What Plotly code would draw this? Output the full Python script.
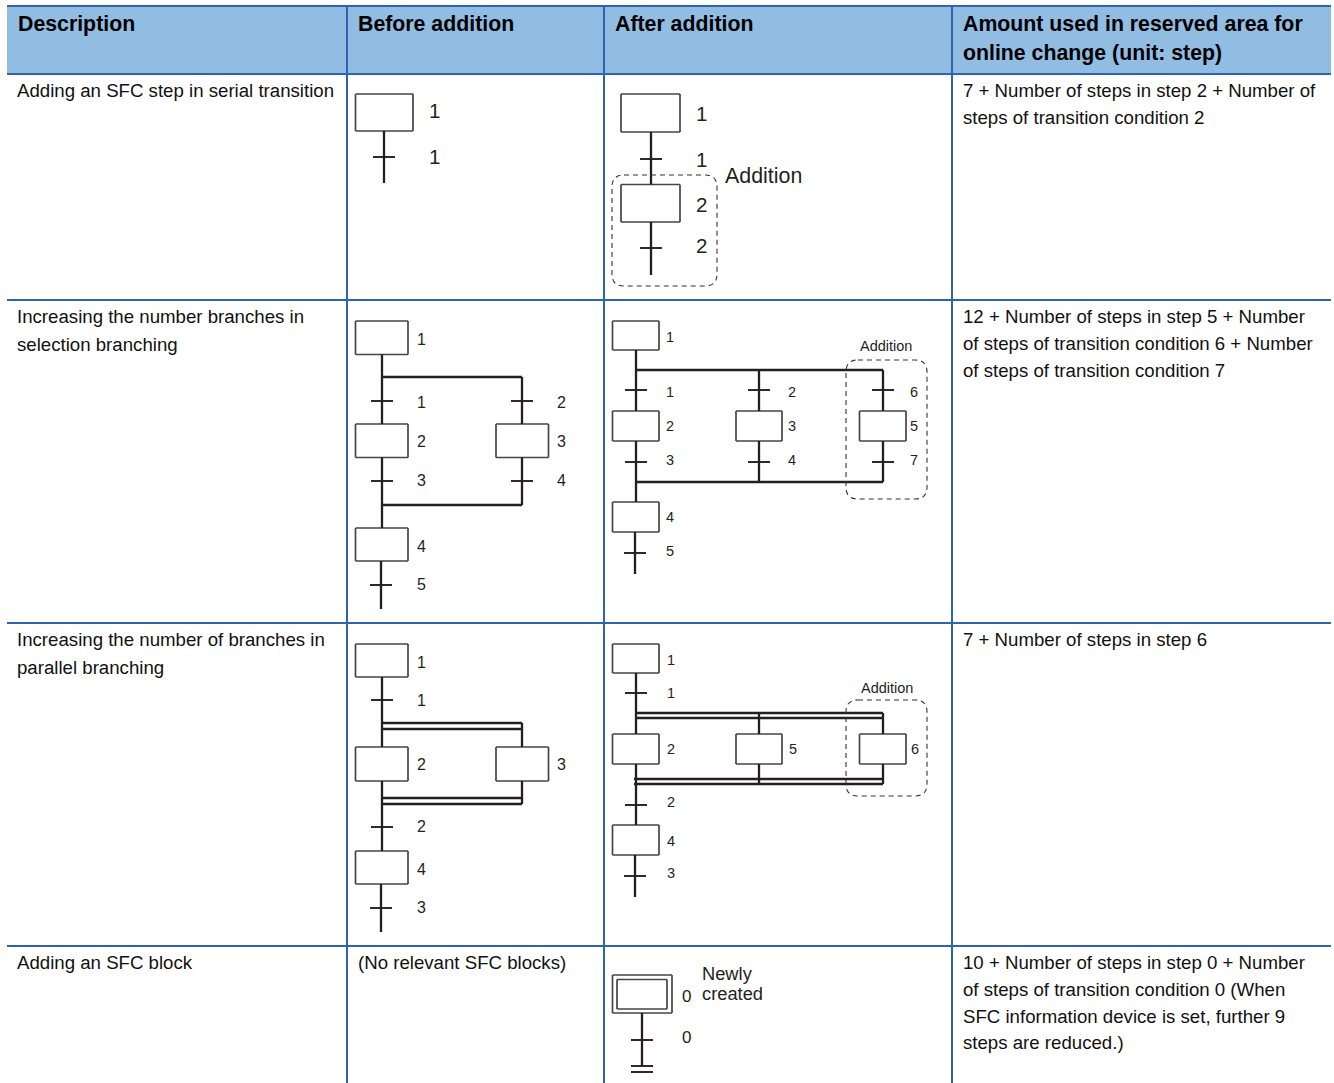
import plotly.graph_objects as go

W, H = 1334, 1083
# Table structure
grid_columns = [347, 604, 952]
grid_rows = [6, 74, 300, 623, 946]
table_left, table_right = 7, 1331
header_box = (7, 6, 1331, 74)

header_cells = [
    (18, 24, "Description"), (358, 24, "Before addition"), (615, 24, "After addition"),
    (963, 24, "Amount used in reserved area for"), (963, 53, "online change (unit: step)"),
]
body_cells = [
    (17, 90, "Adding an SFC step in serial transition"),
    (963, 90, "7 + Number of steps in step 2 + Number of"),
    (963, 117, "steps of transition condition 2"),
    (17, 316, "Increasing the number branches in"),
    (17, 344, "selection branching"),
    (963, 316, "12 + Number of steps in step 5 + Number"),
    (963, 343, "of steps of transition condition 6 + Number"),
    (963, 370, "of steps of transition condition 7"),
    (17, 639, "Increasing the number of branches in"),
    (17, 667, "parallel branching"),
    (963, 639, "7 + Number of steps in step 6"),
    (17, 962, "Adding an SFC block"),
    (358, 962, "(No relevant SFC blocks)"),
    (963, 962, "10 + Number of steps in step 0 + Number"),
    (963, 989, "of steps of transition condition 0 (When"),
    (963, 1016, "SFC information device is set, further 9"),
    (963, 1042, "steps are reduced.)"),
]

# SFC diagrams: step boxes (x0, y0, x1, y1)
step_boxes = [
    (355.5, 94, 413, 131),
    (621, 94, 680, 132), (621, 184.5, 680, 222),
    (355.5, 321, 408, 354.5), (355.5, 424, 408, 457.5), (496, 424, 548.5, 457.5), (355.5, 528, 408, 561),
    (612.5, 321, 659, 350), (612.5, 411, 659, 441), (736, 411, 782, 441), (859.5, 411, 906, 441), (612.5, 502, 659, 532),
    (355.5, 644, 408, 677), (355.5, 747, 408, 781), (496, 747, 548.5, 781), (355.5, 851, 408, 884),
    (612.5, 644, 659, 673), (612.5, 734, 659, 764), (736, 734, 782, 764), (859.5, 734, 906, 764), (612.5, 825, 659, 855),
    (612.5, 975, 672, 1013), (617, 979.5, 667, 1009),
]
# Vertical connectors (x, y0, y1)
stems = [
    (384, 131, 183),
    (651, 132, 184.5), (651, 222, 275),
    (382, 354.5, 424), (522, 377, 424), (382, 457.5, 528), (522, 457.5, 505), (381, 561, 609),
    (636, 350, 411), (759, 370, 411), (883, 370, 411), (636, 441, 502), (759, 441, 482), (883, 441, 482), (635, 532, 574),
    (382, 677, 747), (522, 723, 747), (382, 781, 851), (522, 781, 804), (381, 884, 932),
    (636, 673, 734), (759, 713, 734), (883, 713, 734), (636, 764, 825), (759, 764, 784), (883, 764, 784), (635, 855, 897),
    (642, 1013, 1066),
]
# Horizontal bus lines (x0, x1, y)
buses = [
    (382, 522, 377), (382, 522, 505),
    (636, 883, 370), (636, 883, 482),
    (382, 522, 723), (382, 522, 729), (382, 522, 798), (382, 522, 804),
    (636, 883, 713), (636, 883, 718), (634, 883, 779), (634, 883, 784),
]
# Transition bars (x centre, y)
transitions = [
    (384, 157), (651, 159), (651, 248),
    (382, 401), (522, 401), (382, 481), (522, 481), (381, 585),
    (636, 390), (759, 390), (883, 390), (636, 462), (759, 462), (883, 462), (635, 553),
    (382, 700), (382, 827), (381, 908),
    (636, 693), (636, 805), (635, 876),
    (642, 1040), (642, 1066), (642, 1072),
]
# Dashed "Addition" frames (x0, y0, x1, y1)
addition_frames = [(612, 175, 717, 286), (846, 360, 927, 499), (846, 700, 927, 796)]

large_labels = [
    (434, 110, "1"), (434, 156, "1"),
    (701, 113, "1"), (701, 159, "1"), (701, 204, "2"), (701, 245, "2"),
]
addition_large = [(763.5, 175.5, "Addition")]
medium_labels = [
    (421, 339, "1"), (421, 402, "1"), (561, 402, "2"), (421, 441, "2"), (561, 441, "3"),
    (421, 480, "3"), (561, 480, "4"), (421, 546, "4"), (421, 584, "5"),
    (421, 662, "1"), (421, 700, "1"), (421, 764, "2"), (561, 764, "3"),
    (421, 826, "2"), (421, 869, "4"), (421, 907, "3"),
]
small_labels = [
    (670, 337, "1"), (670, 392, "1"), (792, 392, "2"), (914, 392, "6"),
    (670, 426, "2"), (792, 426, "3"), (914, 426, "5"),
    (670, 460, "3"), (792, 460, "4"), (914, 460, "7"),
    (670, 517, "4"), (670, 550.5, "5"), (886, 346, "Addition"),
    (671, 660, "1"), (671, 693, "1"), (671, 749, "2"), (793, 749, "5"), (915, 749, "6"),
    (671, 802, "2"), (671, 841, "4"), (671, 873, "3"), (887, 688, "Addition"),
]
block_labels = [(686, 996, "0"), (686, 1037, "0"), (702, 973.5, "Newly"), (702, 993, "created")]

GRID = "#2f63ae"
INK = "#231f20"
BOX = "#454545"
FONT = "Liberation Sans"

fig = go.Figure()


def add_segments(segs, color, width):
    xs, ys = [], []
    for a, b, c, d in segs:
        xs += [a, c, None]
        ys += [b, d, None]
    fig.add_trace(go.Scatter(x=xs, y=ys, mode="lines", hoverinfo="skip",
                             line=dict(color=color, width=width)))


# Header band
hx0, hy0, hx1, hy1 = header_box
fig.add_trace(go.Scatter(x=[hx0, hx1, hx1, hx0, hx0], y=[hy0, hy0, hy1, hy1, hy0], mode="lines",
                         fill="toself", fillcolor="#92bde3", line=dict(width=0), hoverinfo="skip"))
# Grid
add_segments([(table_left, y, table_right, y) for y in grid_rows], GRID, 2)
add_segments([(x, grid_rows[0], x, H) for x in grid_columns], GRID, 2)
# Diagrams
box_segs = []
for x0, y0, x1, y1 in step_boxes:
    box_segs += [(x0, y0, x1, y0), (x1, y0, x1, y1), (x1, y1, x0, y1), (x0, y1, x0, y0)]
add_segments(box_segs, BOX, 1.7)
add_segments([(x, a, x, b) for x, a, b in stems], INK, 2.3)
add_segments([(a, y, b, y) for a, b, y in buses], INK, 2.3)
add_segments([(x - 11, y, x + 11, y) for x, y in transitions], INK, 1.9)

shapes = []
for x0, y0, x1, y1 in addition_frames:
    r = 12
    path = (f"M {x0+r} {y0} L {x1-r} {y0} Q {x1} {y0} {x1} {y0+r} L {x1} {y1-r} Q {x1} {y1} {x1-r} {y1} "
            f"L {x0+r} {y1} Q {x0} {y1} {x0} {y1-r} L {x0} {y0+r} Q {x0} {y0} {x0+r} {y0} Z")
    shapes.append(dict(type="path", path=path, xref="x", yref="y",
                       line=dict(color="#333333", width=1.1, dash="5px,4px")))


def add_text(items, size, color, bold=False, anchor="left"):
    for x, y, t in items:
        fig.add_annotation(x=x, y=y, text=f"<b>{t}</b>" if bold else t, showarrow=False,
                           xanchor=anchor, yanchor="middle", borderpad=0, borderwidth=0,
                           font=dict(family=FONT, size=size, color=color))


add_text(header_cells, 21.3, "#000000", bold=True)
add_text(body_cells, 18.65, "#111111")
add_text(large_labels, 20.5, INK, anchor="center")
add_text(addition_large, 21.4, INK, anchor="center")
add_text(medium_labels, 16, INK, anchor="center")
add_text(small_labels, 14.5, INK, anchor="center")
add_text(block_labels[:2], 17, INK, anchor="center")
add_text(block_labels[2:], 18.3, INK)

fig.update_layout(
    width=W, height=H, margin=dict(l=0, r=0, t=0, b=0), showlegend=False,
    paper_bgcolor="white", plot_bgcolor="white", shapes=shapes,
    xaxis=dict(range=[0, W], visible=False, fixedrange=True),
    yaxis=dict(range=[H, 0], visible=False, fixedrange=True),
)
fig.write_html("out.html", config={"displayModeBar": False},
               post_script="document.body.style.margin='0';document.body.style.overflow='hidden';")
